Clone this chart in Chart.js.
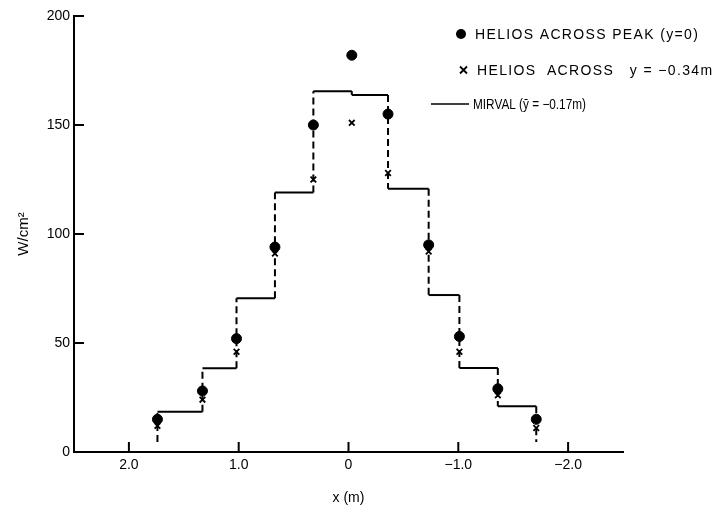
<!DOCTYPE html>
<html>
<head>
<meta charset="utf-8">
<script src="https://cdn.jsdelivr.net/npm/chart.js@4.4.1/dist/chart.umd.min.js"></script>
<style>
  html, body { margin: 0; padding: 0; background: #fff; }
  #wrap { position: relative; width: 717px; height: 512px; }
</style>
</head>
<body>
<div id="wrap"><canvas id="fluxChart" width="717" height="512"></canvas></div>
<script>
// x positions (m) of the HELIOS samples
const sampleX = [1.74, 1.33, 1.02, 0.67, 0.32, -0.03, -0.36, -0.73, -1.01, -1.36, -1.71];
// HELIOS across peak (y=0), W/cm2
const peakValues = [15, 28, 52, 94, 150, 182, 155, 95, 53, 29, 15];
// HELIOS across y = -0.34 m, W/cm2
const acrossValues = [12, 24, 46, 91, 125, 151, 128, 92, 46, 26, 11];
// MIRVAL step profile corners
const mirvalX = [1.74, 1.74, 1.33, 1.33, 1.02, 1.02, 0.67, 0.67, 0.32, 0.32, -0.03, -0.03, -0.36, -0.36, -0.73, -0.73, -1.01, -1.01, -1.36, -1.36, -1.71, -1.71];
const mirvalY = [4.6, 18.5, 18.5, 38.4, 38.4, 70.5, 70.5, 119, 119, 165.5, 165.5, 163.8, 163.8, 120.8, 120.8, 72, 72, 38.5, 38.5, 21, 21, 4.6];

const xTicks = [2, 1, 0, -1, -2];
const xTickLabels = ['2.0', '1.0', '0', '\u22121.0', '\u22122.0'];
const yTicks = [0, 50, 100, 150, 200];

const legendItems = [
    { marker: 'dot', text: 'HELIOS ACROSS PEAK (y=0)' },
    { marker: 'cross', text: 'HELIOS  ACROSS   y = \u22120.34m' },
    { marker: 'line', text: 'MIRVAL (\u0233 = \u22120.17m)' }
];

const FONT = '"Liberation Sans", Arial, sans-serif';

function toPoints(xs, ys) {
    return xs.map((x, i) => ({ x: x, y: ys[i] }));
}

// inward tick marks on both axes
const innerTicks = {
    id: 'innerTicks',
    afterDraw(chart) {
        const ctx = chart.ctx;
        const xs = chart.scales.x;
        const ys = chart.scales.y;
        ctx.save();
        ctx.strokeStyle = '#000';
        ctx.lineWidth = 2;
        xTicks.forEach(v => {
            const px = xs.getPixelForValue(v);
            ctx.beginPath();
            ctx.moveTo(px, ys.bottom);
            ctx.lineTo(px, ys.bottom - 10);
            ctx.stroke();
        });
        yTicks.forEach(v => {
            const py = ys.getPixelForValue(v);
            ctx.beginPath();
            ctx.moveTo(xs.left, py);
            ctx.lineTo(xs.left + 10, py);
            ctx.stroke();
        });
        ctx.restore();
    }
};

// legend in the upper right corner
const cornerLegend = {
    id: 'cornerLegend',
    afterDraw(chart) {
        const ctx = chart.ctx;
        const rows = [34, 70, 104];
        const spacing = ['1.35px', '1.35px', '0px'];
        const maxW = [230, 240, 113];
        ctx.save();
        ctx.fillStyle = '#000';
        ctx.strokeStyle = '#000';
        ctx.font = '14px ' + FONT;
        ctx.textBaseline = 'middle';
        legendItems.forEach((item, i) => {
            const y = rows[i];
            let tx = 475;
            if (item.marker === 'dot') {
                ctx.beginPath();
                ctx.arc(461, y, 5, 0, Math.PI * 2);
                ctx.fill();
            } else if (item.marker === 'cross') {
                ctx.lineWidth = 1.8;
                ctx.beginPath();
                ctx.moveTo(460, y - 3.5); ctx.lineTo(467, y + 3.5);
                ctx.moveTo(467, y - 3.5); ctx.lineTo(460, y + 3.5);
                ctx.stroke();
                tx = 477;
            } else {
                ctx.lineWidth = 1.5;
                ctx.beginPath();
                ctx.moveTo(431, y); ctx.lineTo(469, y);
                ctx.stroke();
                tx = 473;
            }
            if ('letterSpacing' in ctx) ctx.letterSpacing = spacing[i];
            ctx.fillText(item.text, tx, y + 1, maxW[i]);
        });
        ctx.restore();
    }
};

const ctx = document.getElementById('fluxChart').getContext('2d');
new Chart(ctx, {
    type: 'scatter',
    data: {
        datasets: [{
            label: 'MIRVAL',
            data: toPoints(mirvalX, mirvalY),
            showLine: true,
            borderColor: '#000',
            borderWidth: 2,
            borderDash: [7, 4],
            pointRadius: 0,
            fill: false,
            segment: {
                // vertical risers are dashed, treads are solid
                borderDash: c => (c.p0.parsed.x === c.p1.parsed.x ? [7, 4] : [])
            }
        }, {
            label: 'HELIOS ACROSS PEAK (y=0)',
            data: toPoints(sampleX, peakValues),
            pointStyle: 'circle',
            pointRadius: 5,
            backgroundColor: '#000',
            borderColor: '#000',
            borderWidth: 1
        }, {
            label: 'HELIOS ACROSS y=-0.34m',
            data: toPoints(sampleX, acrossValues),
            pointStyle: 'crossRot',
            pointRadius: 4,
            borderColor: '#000',
            borderWidth: 1.8
        }]
    },
    options: {
        responsive: false,
        animation: false,
        layout: {
            padding: { left: 0, top: 16, right: 94, bottom: 0 }
        },
        plugins: {
            legend: { display: false },
            tooltip: { enabled: false }
        },
        scales: {
            x: {
                type: 'linear',
                reverse: true,
                min: -2.5,
                max: 2.5,
                afterBuildTicks: scale => {
                    scale.ticks = xTicks.map(v => ({ value: v }));
                },
                afterFit: scale => { scale.height = 60; },
                grid: { display: false, drawTicks: false },
                border: { display: true, color: '#000', width: 2 },
                ticks: {
                    color: '#000',
                    padding: 5,
                    maxRotation: 0,
                    font: { family: FONT, size: 14 },
                    callback: v => {
                        const i = xTicks.indexOf(v);
                        return i >= 0 ? xTickLabels[i] : '';
                    }
                },
                title: {
                    display: true,
                    text: 'x (m)',
                    color: '#000',
                    font: { family: FONT, size: 14 },
                    padding: { top: 0, bottom: 5 }
                }
            },
            y: {
                min: 0,
                max: 200,
                afterBuildTicks: scale => {
                    scale.ticks = yTicks.map(v => ({ value: v }));
                },
                afterFit: scale => { scale.width = 74; },
                grid: { display: false, drawTicks: false },
                border: { display: true, color: '#000', width: 2 },
                ticks: {
                    color: '#000',
                    padding: 4,
                    font: { family: FONT, size: 14 }
                },
                title: {
                    display: true,
                    text: 'W/cm\u00b2',
                    color: '#000',
                    font: { family: FONT, size: 15 },
                    padding: { top: 15, bottom: 0 }
                }
            }
        }
    },
    plugins: [innerTicks, cornerLegend]
});
</script>
</body>
</html>
